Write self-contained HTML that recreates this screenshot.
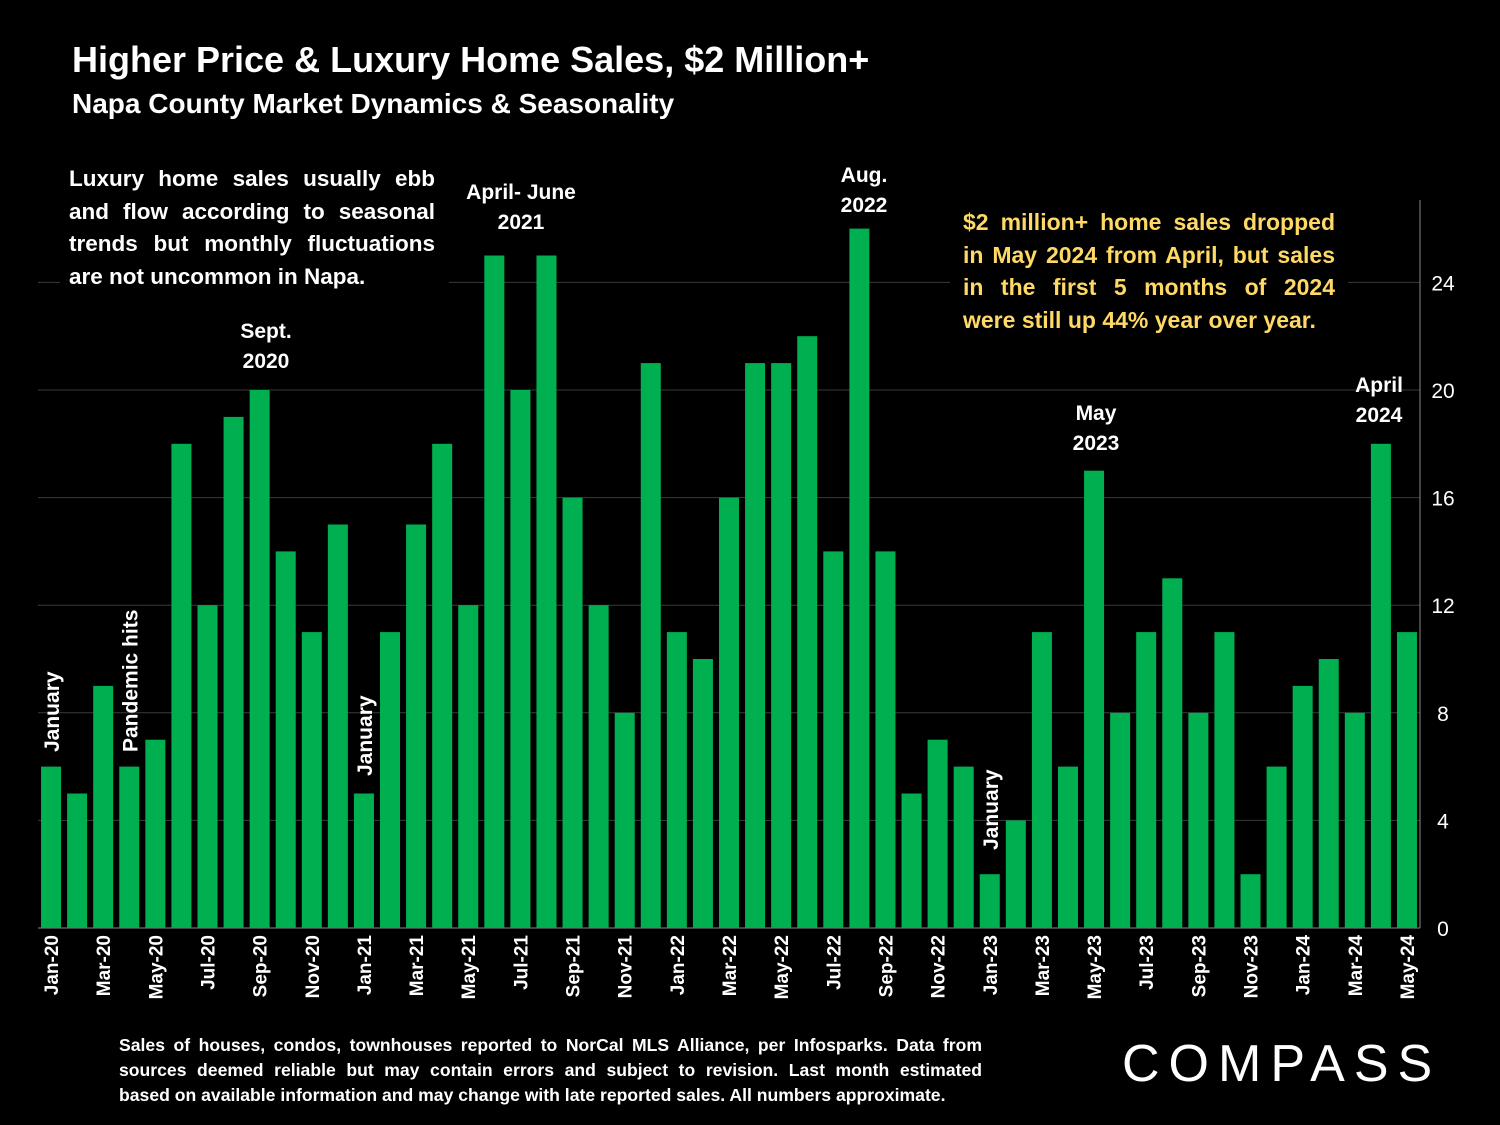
<!DOCTYPE html>
<html><head><meta charset="utf-8"><style>
body{margin:0;background:#000;width:1500px;height:1125px;overflow:hidden;font-family:"Liberation Sans",sans-serif;color:#fff}
.t{position:absolute;font-weight:bold}
.j{text-align:justify;text-align-last:justify;white-space:nowrap}
.l{text-align:left;white-space:nowrap}
</style></head><body>
<div class="t" style="left:72px;top:39px;font-size:36px">Higher Price &amp; Luxury Home Sales, $2 Million+</div>
<div class="t" style="left:72px;top:88px;font-size:28px">Napa County Market Dynamics &amp; Seasonality</div>
<svg id="c" width="1500" height="1125" style="position:absolute;left:0;top:0"></svg>
<div class="t" style="left:60px;top:163px;width:366px;font-size:22.5px;line-height:32.5px;background:#000;padding:0 14px 0 9px">
<div class="j">Luxury home sales usually ebb</div><div class="j">and flow according to seasonal</div><div class="j">trends but monthly fluctuations</div><div class="l">are not uncommon in Napa.</div></div>
<div class="t" style="left:950px;top:206px;width:372px;font-size:23px;line-height:32.5px;color:#ffd966;background:#000;padding:0 13px 0 13px">
<div class="j">$2 million+ home sales dropped</div><div class="j">in May 2024 from April, but sales</div><div class="j">in the first 5 months of 2024</div><div class="l">were still up 44% year over year.</div></div>
<div class="t" style="left:119px;top:1033px;width:863px;font-size:17.6px;line-height:25px">
<div class="j">Sales of houses, condos, townhouses reported to NorCal MLS Alliance, per Infosparks. Data from</div><div class="j">sources deemed reliable but may contain errors and subject to revision. Last month estimated</div><div class="l">based on available information and may change with late reported sales. All numbers approximate.</div></div>
<div style="position:absolute;left:1122px;top:1034px;font-size:52px;letter-spacing:9px;color:#fff">COMPASS</div>
<script>
const labels=["Jan-20","Feb-20","Mar-20","Apr-20","May-20","Jun-20","Jul-20","Aug-20","Sep-20","Oct-20","Nov-20","Dec-20","Jan-21","Feb-21","Mar-21","Apr-21","May-21","Jun-21","Jul-21","Aug-21","Sep-21","Oct-21","Nov-21","Dec-21","Jan-22","Feb-22","Mar-22","Apr-22","May-22","Jun-22","Jul-22","Aug-22","Sep-22","Oct-22","Nov-22","Dec-22","Jan-23","Feb-23","Mar-23","Apr-23","May-23","Jun-23","Jul-23","Aug-23","Sep-23","Oct-23","Nov-23","Dec-23","Jan-24","Feb-24","Mar-24","Apr-24","May-24"];
const values=[6,5,9,6,7,18,12,19,20,14,11,15,5,11,15,18,12,25,20,25,16,12,8,21,11,10,16,21,21,22,14,26,14,5,7,6,2,4,11,6,17,8,11,13,8,11,2,6,9,10,8,18,11];
const yTicks=[0,4,8,12,16,20,24];
const ns="http://www.w3.org/2000/svg",svg=document.getElementById('c');
const X0=38,X1=1420,Y0=928,PPU=26.9,band=(X1-X0)/labels.length;
const y=v=>Y0-v*PPU, xc=i=>X0+band*(i+0.5);
function mk(t,a){const e=document.createElementNS(ns,t);for(const k in a)e.setAttribute(k,a[k]);svg.appendChild(e);return e;}
yTicks.forEach(t=>{
 if(t>0){const g=mk('line',{x1:X0,x2:X1,y1:y(t),y2:y(t),stroke:'#3a3a3a','stroke-width':1});
 
 }
 const l=mk('text',{x:1443,y:y(t)+8,'text-anchor':'middle','font-size':21,fill:'#fff','font-family':'Liberation Sans'});l.textContent=t;
 
 
});
const ax=mk('line',{x1:X1,x2:X1,y1:200,y2:Y0,stroke:'#888','stroke-width':1});


const bx=mk('line',{x1:X0,x2:X1,y1:Y0,y2:Y0,stroke:'#888','stroke-width':1});


values.forEach((v,i)=>{
 const r=mk('rect',{x:xc(i)-10,y:y(v),width:20,height:v*PPU,fill:'#00b050'});
 
 
 if(i%2===0){const t=mk('text',{transform:`translate(${xc(i)+7},935) rotate(-90)`,'text-anchor':'end','font-size':19,'font-weight':'bold',fill:'#fff','font-family':'Liberation Sans'});t.textContent=labels[i];
 
 }
});
function ann(lines,x,yy,rot){
 if(rot){const t=mk('text',{transform:`translate(${x},${yy}) rotate(-90)`,'font-size':21,'font-weight':'bold',fill:'#fff','font-family':'Liberation Sans'});t.textContent=lines[0];
 
 return;}
 lines.forEach((s,k)=>{const t=mk('text',{x:x,y:yy+k*30,'text-anchor':'middle','font-size':21,'font-weight':'bold',fill:'#fff','font-family':'Liberation Sans'});t.textContent=s;
 
 });
}
ann(["January"],xc(0)+8,752,1);
ann(["Pandemic hits"],xc(3)+8,752,1);
ann(["January"],xc(12)+8,776,1);
ann(["January"],xc(36)+8,850,1);
ann(["Sept.","2020"],266,338);
ann(["April- June","2021"],521,199);
ann(["Aug.","2022"],864,182);
ann(["May","2023"],1096,420);
ann(["April","2024"],1379,392);
</script>
</body></html>
